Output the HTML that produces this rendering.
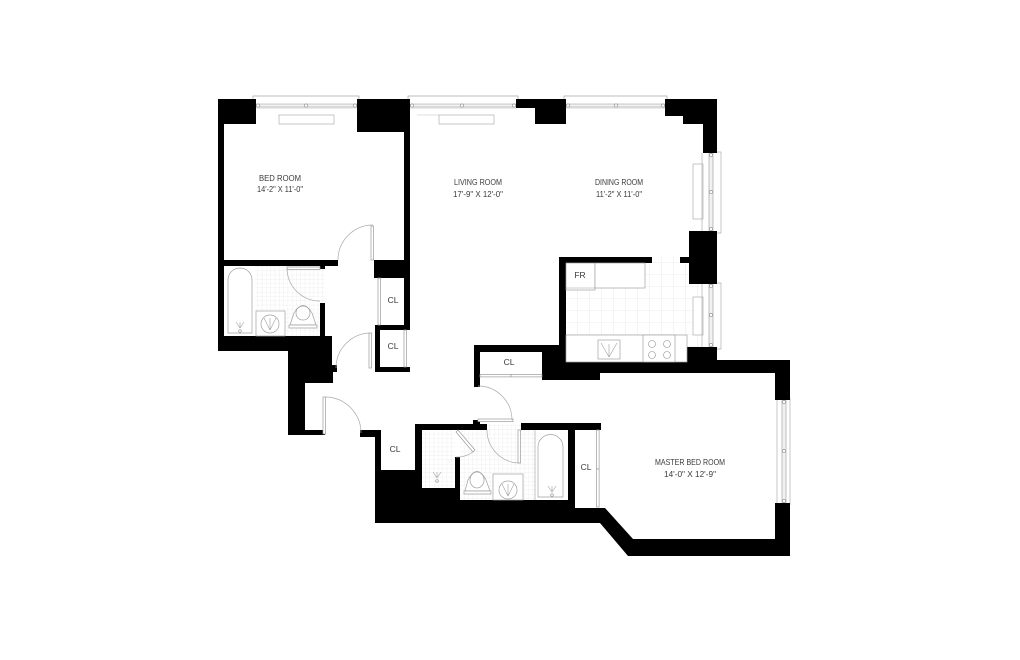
<!DOCTYPE html>
<html>
<head>
<meta charset="utf-8">
<style>
  html,body{margin:0;padding:0;background:#fff;}
  svg{display:block;}
  text{font-family:"Liberation Sans",sans-serif;font-size:8.5px;fill:#3a3a3a;text-anchor:middle;}
</style>
</head>
<body>
<svg width="1020" height="660" viewBox="0 0 1020 660" xmlns="http://www.w3.org/2000/svg">
<defs>
  <pattern id="t4" width="4.3" height="4.3" patternUnits="userSpaceOnUse">
    <path d="M4.3 0V4.3M0 4.3H4.3" stroke="#e0e0e0" stroke-width="0.5" fill="none"/>
  </pattern>
  <pattern id="t12" width="12" height="12" patternUnits="userSpaceOnUse" x="566" y="263">
    <path d="M12 0V12M0 12H12" stroke="#dcdcdc" stroke-width="0.6" fill="none"/>
  </pattern>
</defs>
<rect width="1020" height="660" fill="#fff"/>

<!-- tiles -->
<rect x="255" y="266" width="65" height="70" fill="url(#t4)"/>
<rect x="320" y="269" width="5" height="34" fill="url(#t4)"/>
<rect x="422" y="430" width="33" height="58" fill="url(#t4)"/>
<rect x="460" y="430" width="76" height="70" fill="url(#t4)"/>
<rect x="487" y="424" width="34" height="6" fill="url(#t4)"/>
<rect x="566" y="263" width="134" height="72" fill="url(#t12)"/>
<rect x="652" y="257" width="37" height="6" fill="url(#t12)"/>
<rect x="687" y="335" width="13" height="12" fill="url(#t12)"/>

<!-- windows (top) -->
<g stroke="#a8a8a8" stroke-width="0.7" fill="none">
  <path d="M253 99V96H359V99"/>
  <path d="M408 99V96H518V99"/>
  <path d="M564 99V96H667V99"/>
</g>
<g fill="#f1f1f1" stroke="none">
  <rect x="256" y="104" width="101" height="3"/>
  <rect x="410" y="104" width="106" height="3"/>
  <rect x="566" y="104" width="99" height="3"/>
  <rect x="256" y="107" width="101" height="2" fill="#ececec"/>
  <rect x="410" y="107" width="106" height="2" fill="#ececec"/>
  <rect x="566" y="107" width="99" height="2" fill="#ececec"/>
</g>
<g stroke="#999" stroke-width="0.6" fill="none">
  <path d="M256 104H357M256 107H357"/>
  <path d="M410 104H516M410 107H516"/>
  <path d="M566 104H665M566 107H665"/>
</g>
<g stroke="#888" stroke-width="0.6" fill="#fff">
  <circle cx="258" cy="105.5" r="1.6"/><circle cx="306" cy="105.5" r="1.6"/><circle cx="355" cy="105.5" r="1.6"/>
  <circle cx="412" cy="105.5" r="1.6"/><circle cx="462" cy="105.5" r="1.6"/><circle cx="514" cy="105.5" r="1.6"/>
  <circle cx="568" cy="105.5" r="1.6"/><circle cx="616" cy="105.5" r="1.6"/><circle cx="663" cy="105.5" r="1.6"/>
</g>
<!-- sills -->
<g stroke="#b0b0b0" stroke-width="0.7" fill="#fff">
  <rect x="279" y="115" width="55" height="9"/>
  <rect x="439" y="115" width="55" height="9"/>
  <rect x="693" y="164" width="10" height="55"/>
  <rect x="693" y="297" width="10" height="38"/>
</g>
<path d="M417 115H439" stroke="#c0c0c0" stroke-width="0.6"/>

<!-- windows (right side) -->
<g fill="#f1f1f1"><rect x="709" y="153" width="4" height="78"/><rect x="709" y="284" width="4" height="63"/><rect x="782" y="400" width="4" height="103"/></g>
<g stroke="#999" stroke-width="0.6" fill="none">
  <path d="M709 153V231M713 153V231"/>
  <path d="M709 284V347M713 284V347"/>
  <path d="M782 400V503M786 400V503"/>
</g>
<g stroke="#b0b0b0" stroke-width="0.7" fill="none">
  <path d="M717 152H721V233H717"/>
  <path d="M717 283H721V349H717"/>
  <path d="M702 153V231M702 284V347"/>
  <path d="M777 400V503M790 398V505"/>
</g>
<g stroke="#888" stroke-width="0.6" fill="#fff">
  <circle cx="711" cy="155" r="1.6"/><circle cx="711" cy="192" r="1.6"/><circle cx="711" cy="229" r="1.6"/>
  <circle cx="711" cy="286" r="1.6"/><circle cx="711" cy="315" r="1.6"/><circle cx="711" cy="345" r="1.6"/>
  <circle cx="784" cy="402" r="1.6"/><circle cx="784" cy="451" r="1.6"/><circle cx="784" cy="501" r="1.6"/>
</g>

<!-- WALLS -->
<g fill="#000">
  <rect x="218" y="99" width="38" height="25"/>
  <rect x="218" y="99" width="6" height="252"/>
  <rect x="357" y="99" width="53" height="33"/>
  <rect x="404" y="99" width="6" height="231"/>
  <rect x="218" y="260" width="120" height="6"/>
  <rect x="374" y="260" width="36" height="18"/>
  <rect x="320" y="266" width="5" height="3"/>
  <rect x="320" y="303" width="5" height="33"/>
  <rect x="218" y="336" width="107" height="15"/>
  <rect x="288" y="336" width="44" height="32"/>
  <rect x="332" y="365" width="5" height="7"/>
  <rect x="288" y="368" width="45" height="15"/>
  <rect x="288" y="383" width="17" height="52"/>
  <rect x="305" y="430" width="20" height="5"/>
  <!-- closets left -->
  <rect x="375" y="325" width="35" height="5"/>
  <rect x="375" y="330" width="5" height="42"/>
  <rect x="375" y="367" width="35" height="5"/>
  <!-- lower left -->
  <rect x="360" y="430" width="21" height="7"/>
  <rect x="375" y="430" width="6" height="42"/>
  <rect x="415" y="424" width="7" height="64"/>
  <rect x="415" y="424" width="72" height="6"/>
  <rect x="473" y="420" width="7" height="6"/>
  <rect x="521" y="423" width="80" height="7"/>
  <rect x="375" y="470" width="47" height="53"/>
  <rect x="422" y="488" width="38" height="35"/>
  <rect x="455" y="457" width="5" height="43"/>
  <rect x="460" y="500" width="108" height="23"/>
  <rect x="568" y="423" width="7" height="100"/>
  <rect x="575" y="508" width="30" height="15"/>
  <polygon points="600,508 605,508 633,539 775,539 775,503 790,503 790,556 628,556 600,523"/>
  <!-- hall closet / kitchen -->
  <rect x="474" y="345" width="86" height="7"/>
  <rect x="474" y="345" width="6" height="42"/>
  <rect x="542" y="352" width="24" height="28"/>
  <rect x="542" y="362" width="58" height="18"/>
  <rect x="559" y="257" width="7" height="106"/>
  <rect x="559" y="257" width="93" height="6"/>
  <rect x="680" y="257" width="10" height="6"/>
  <rect x="689" y="231" width="28" height="53"/>
  <rect x="687" y="347" width="30" height="26"/>
  <rect x="598" y="360" width="192" height="13"/>
  <rect x="775" y="360" width="15" height="40"/>
  <!-- top right -->
  <rect x="516" y="99" width="50" height="9"/>
  <rect x="535" y="99" width="31" height="25"/>
  <rect x="665" y="99" width="52" height="17"/>
  <rect x="683" y="99" width="34" height="25"/>
  <rect x="703" y="99" width="14" height="54"/>
</g>

<!-- DOORS -->
<g stroke="#9a9a9a" stroke-width="0.7" fill="#fff">
  <rect x="371" y="226" width="2.6" height="34"/>
  <rect x="287" y="267" width="33" height="2.4"/>
  <rect x="378" y="278" width="2.6" height="47"/>
  <rect x="404" y="330" width="2.6" height="37"/>
  <rect x="369" y="333" width="2.6" height="35"/>
  <rect x="323" y="397" width="2.6" height="37"/>
  <rect x="480" y="374.5" width="31" height="2.4"/>
  <rect x="511" y="374.5" width="31" height="2.4"/>
  <rect x="478" y="419" width="35" height="2.6"/>
  <rect x="518" y="430" width="2.6" height="33"/>
  <rect x="596.5" y="430" width="2.6" height="39"/>
  <rect x="596.5" y="469" width="2.6" height="38"/>
  <polygon points="456,432 458,430 475,450 473,452"/>
</g>
<g stroke="#aaa" stroke-width="0.7" fill="none">
  <path d="M338 260A35 35 0 0 1 373 225"/>
  <path d="M287 268A33 33 0 0 0 320 301"/>
  <path d="M371 333A35 35 0 0 0 336 368"/>
  <path d="M325 397A36 36 0 0 1 361 433"/>
  <path d="M478 386A34 34 0 0 1 512 420"/>
  <path d="M487 430A33 33 0 0 0 520 463"/>
  <path d="M474 451A26 26 0 0 1 456 457"/>
</g>

<!-- FIXTURES -->
<g stroke="#a0a0a0" stroke-width="0.7" fill="#fff">
  <!-- bedroom bath -->
  <path d="M228 333V280A12 12 0 0 1 252 280V333Z"/>
  <rect x="256" y="311" width="29" height="25"/>
  <circle cx="270" cy="324" r="9"/>
  <path d="M290 325L294 313Q303 298 312 313L316 325Z"/>
  <ellipse cx="303" cy="313" rx="7" ry="7"/>
  <path d="M289 325H317V328H289Z"/>
  <!-- main bath -->
  <path d="M538 497V447A12.5 12.5 0 0 1 563 447V497Z"/>
  <rect x="493" y="474" width="30" height="26"/>
  <circle cx="508" cy="490" r="9"/>
  <path d="M465 491L468 480Q477 463 486 480L490 491Z"/>
  <ellipse cx="477" cy="480" rx="7" ry="8"/>
  <path d="M464 491H491V494H464Z"/>
  <!-- kitchen -->
  <rect x="566" y="263" width="29" height="27"/>
  <rect x="595" y="263" width="50" height="25"/>
  <rect x="566" y="335" width="121" height="27"/>
  <rect x="598" y="340" width="22" height="19"/>
  <rect x="643" y="335" width="32" height="27"/>
</g>
<g stroke="#a0a0a0" stroke-width="0.6" fill="none">
  <path d="M566 288H595"/>
  <path d="M535 430V500"/>
  <path d="M609 357L601 343M609 357L617 343M609 357V344"/>
  <path d="M270 330L264 318M270 330L276 318M270 330V318"/>
  <path d="M508 496L502 484M508 496L514 484M508 496V484"/>
  <path d="M240 328L236 322M240 328L244 322M240 328V322"/>
  <path d="M552 492L548 486M552 492L556 486M552 492V486"/>
  <path d="M437 478L433 472M437 478L441 472M437 478V472"/>
</g>
<g stroke="#909090" stroke-width="0.6" fill="#fff">
  <circle cx="240" cy="331" r="1.3"/>
  <circle cx="552" cy="495" r="1.3"/>
  <circle cx="437" cy="481" r="1.3"/>
  <circle cx="652" cy="344" r="3.5"/><circle cx="667" cy="344" r="3.5"/>
  <circle cx="652" cy="355" r="3.5"/><circle cx="667" cy="355" r="3.5"/>
</g>

<!-- LABELS -->
<text x="280" y="181" textLength="42" lengthAdjust="spacingAndGlyphs">BED ROOM</text>
<text x="280" y="192" textLength="46" lengthAdjust="spacingAndGlyphs">14'-2" X 11'-0"</text>
<text x="478" y="185" textLength="48" lengthAdjust="spacingAndGlyphs">LIVING ROOM</text>
<text x="478" y="197" textLength="50" lengthAdjust="spacingAndGlyphs">17'-9" X 12'-0"</text>
<text x="619" y="185" textLength="48" lengthAdjust="spacingAndGlyphs">DINING ROOM</text>
<text x="619" y="197" textLength="46" lengthAdjust="spacingAndGlyphs">11'-2" X 11'-0"</text>
<text x="690" y="465" textLength="70" lengthAdjust="spacingAndGlyphs">MASTER BED ROOM</text>
<text x="690" y="477" textLength="52" lengthAdjust="spacingAndGlyphs">14'-0" X 12'-9"</text>
<text x="393" y="303">CL</text>
<text x="393" y="349">CL</text>
<text x="509" y="365">CL</text>
<text x="395" y="452">CL</text>
<text x="586" y="470">CL</text>
<text x="580" y="278">FR</text>
</svg>
</body>
</html>
